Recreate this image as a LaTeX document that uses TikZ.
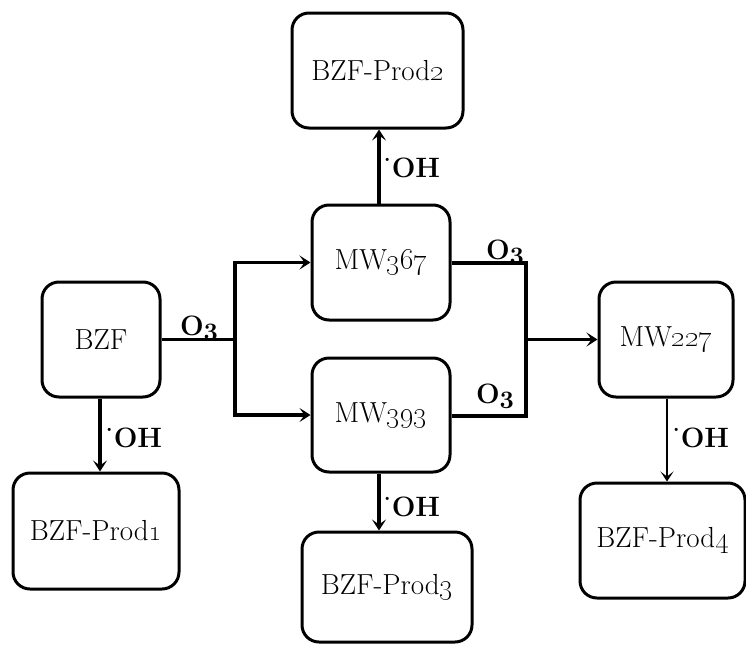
\documentclass[tikz,border=0pt]{standalone}
\usetikzlibrary{arrows.meta}
\begin{document}
\begin{tikzpicture}[x=1pt,y=-1pt,
  box/.style={draw, line width=3pt, rounded corners=17pt, inner sep=0pt,
    font=\fontsize{29}{33}\selectfont},
  conn/.style={line width=3.4pt},
  arr/.style={line width=3.4pt, -{Stealth[length=11pt,width=14pt,inset=5pt]}},
  lbl/.style={font=\fontsize{28}{30}\selectfont\bfseries, inner sep=0pt},
  ]
\useasboundingbox (0,0) rectangle (746,645);
\newcommand{\ohrad}{\raisebox{0.58em}{\fontsize{22}{22}\selectfont .}\kern1pt OH}
\newcommand{\othree}{O{\usefont{OML}{cmm}{b}{it}3}}
% boxes
\node[box, minimum width=118pt, minimum height=115pt] (bzf) at (101,339.5) {BZF};
\node[box, minimum width=171pt, minimum height=115pt] (p2) at (377.5,70.5) {BZF-Prod\oldstylenums{2}};
\node[box, minimum width=138pt, minimum height=115pt] (m367) at (381,262.5) {MW\oldstylenums{367}};
\node[box, minimum width=138pt, minimum height=114pt] (m393) at (381,415) {MW\oldstylenums{393}};
\node[box, minimum width=134pt, minimum height=115pt] (m227) at (666,339.5) {MW\oldstylenums{227}};
\node[box, minimum width=166pt, minimum height=116pt] (p1) at (96,531) {BZF-Prod\oldstylenums{1}};
\node[box, minimum width=170pt, minimum height=110pt] (p3) at (387,587) {BZF-Prod\oldstylenums{3}};
\node[box, minimum width=165pt, minimum height=115pt] (p4) at (662.5,540.5) {BZF-Prod\oldstylenums{4}};
% junctions
\coordinate (j1) at (235,339.5);
\coordinate (j2a) at (526,263);
\coordinate (j2b) at (526,416);
\coordinate (j2m) at (526,339.5);
% connectors
\draw[conn] (bzf.east) -- (j1);
\draw[arr] (j1) |- (m367.west);
\draw[arr] (j1) |- (m393.west);
\draw[conn, line join=miter] (m367.east |- j2a) -- (j2a) -- (j2b) -- (m393.east |- j2b);
\draw[arr] (j2m) -- (m227.west);
\draw[arr] ([xshift=-1pt]bzf.south) -- ([xshift=-1pt]bzf.south |- p1.north);
\draw[arr] ([xshift=-2pt]m367.north) -- ([xshift=-2pt]m367.north |- p2.south);
\draw[arr] ([xshift=-2pt]m393.south) -- ([xshift=-2pt]m393.south |- p3.north);
\draw[line width=2.4pt, -{Stealth[length=10pt,width=13pt,inset=5pt]}] ([xshift=1pt]m227.south) -- ([xshift=1pt]m227.south |- p4.north);
% labels
\node[lbl] (o1) at (199,328) {\othree};
\node[lbl] (o2) at (505,252) {\othree};
\node[lbl] (o3) at (495,396) {\othree};
\node[lbl] (h1) at (134,438) {\ohrad};
\node[lbl] (h2) at (412,168) {\ohrad};
\node[lbl] (h3) at (412,507) {\ohrad};
\node[lbl] (h4) at (701,438) {\ohrad};
\end{tikzpicture}
\end{document}
